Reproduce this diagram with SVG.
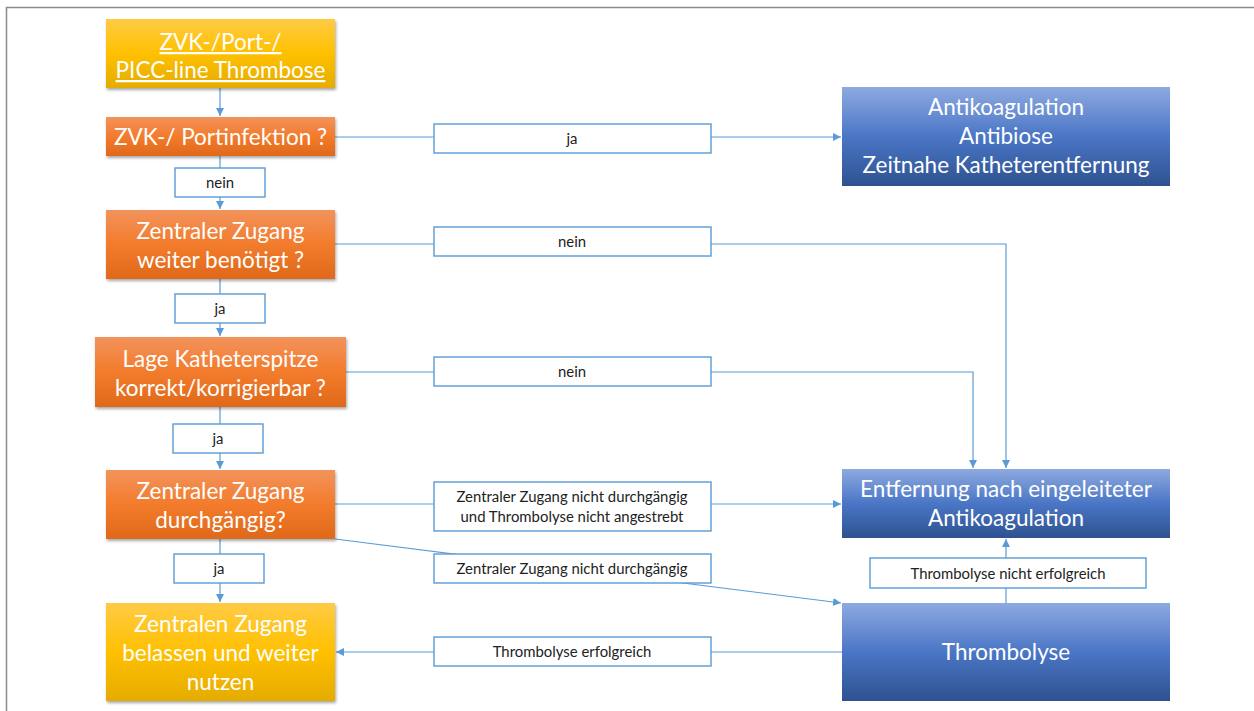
<svg xmlns="http://www.w3.org/2000/svg" width="1254" height="711" viewBox="0 0 1254 711">
<style>
.node text{font-family:Lato,"Open Sans","Liberation Sans",sans-serif;fill:#fff;font-size:22.5px;text-anchor:middle}
.lbl rect{fill:#fff;stroke:#5b9bd5;stroke-width:1.4}
.lbl text{font-family:Lato,"Open Sans","Liberation Sans",sans-serif;fill:#222;font-size:14.9px;text-anchor:middle}
.conn path{fill:none;stroke:#5b9bd5;stroke-width:1.2}
</style>
<defs>
<linearGradient id="gy" x1="0" y1="0" x2="0" y2="1"><stop offset="0" stop-color="#ffcb45"/><stop offset="0.5" stop-color="#ffc000"/><stop offset="1" stop-color="#e5ac00"/></linearGradient>
<linearGradient id="go" x1="0" y1="0" x2="0" y2="1"><stop offset="0" stop-color="#f2935c"/><stop offset="0.5" stop-color="#f37b2c"/><stop offset="1" stop-color="#df691b"/></linearGradient>
<linearGradient id="gb" x1="0" y1="0" x2="0" y2="1"><stop offset="0" stop-color="#8eaadf"/><stop offset="0.5" stop-color="#4a76c6"/><stop offset="1" stop-color="#2e5290"/></linearGradient>
<filter id="sh" x="-5%" y="-10%" width="110%" height="130%"><feDropShadow dx="1" dy="2" stdDeviation="1.5" flood-color="#000" flood-opacity="0.35"/></filter>
<marker id="ah" viewBox="0 0 10 10" refX="10" refY="5" markerWidth="8" markerHeight="8" markerUnits="userSpaceOnUse" orient="auto"><path d="M0,0 L10,5 L0,10 z" fill="#5b9bd5"/></marker>
</defs>
<rect x="0" y="0" width="1254" height="711" fill="#fff"/>
<path d="M6.5,711 V7.5 H1254" fill="none" stroke="#8a8a8a" stroke-width="1.5"/>

<g class="conn">
<path d="M220,88 V116" marker-end="url(#ah)"/>
<path d="M220,156 V209" marker-end="url(#ah)"/>
<path d="M220,279 V336" marker-end="url(#ah)"/>
<path d="M220,407 V469" marker-end="url(#ah)"/>
<path d="M220,539 V602" marker-end="url(#ah)"/>
<path d="M335,137 H841" marker-end="url(#ah)"/>
<path d="M335,244 H1006 V468" marker-end="url(#ah)"/>
<path d="M346,372 H973 V468" marker-end="url(#ah)"/>
<path d="M335,504 H841" marker-end="url(#ah)"/>
<path d="M335,539 L841,603" marker-end="url(#ah)"/>
<path d="M842,652 H336" marker-end="url(#ah)"/>
<path d="M1006,603 V539" marker-end="url(#ah)"/>
</g>

<g class="lbl">
<g id="l-nein1"><rect x="175" y="168" width="90" height="29"/><text x="220" y="188">nein</text></g>
<g id="l-ja1"><rect x="175" y="294" width="90" height="29"/><text x="220" y="314">ja</text></g>
<g id="l-ja2"><rect x="173" y="424" width="90" height="29"/><text x="218" y="444">ja</text></g>
<g id="l-ja3"><rect x="174" y="554" width="90" height="29"/><text x="219" y="574">ja</text></g>
<g id="l-ja4"><rect x="434" y="124" width="277" height="29"/><text x="572" y="144">ja</text></g>
<g id="l-nein2"><rect x="434" y="227" width="277" height="29"/><text x="572" y="247">nein</text></g>
<g id="l-nein3"><rect x="434" y="357" width="277" height="29"/><text x="572" y="377">nein</text></g>
<g id="l-nd2"><rect x="434" y="482" width="277" height="49"/><text x="572" y="502">Zentraler Zugang nicht durchgängig</text><text x="572" y="522">und Thrombolyse nicht angestrebt</text></g>
<g id="l-nd"><rect x="434" y="554" width="277" height="29"/><text x="572" y="574">Zentraler Zugang nicht durchgängig</text></g>
<g id="l-erf"><rect x="434" y="637" width="277" height="29"/><text x="572" y="657">Thrombolyse erfolgreich</text></g>
<g id="l-nerf"><rect x="870" y="558" width="276" height="30"/><text x="1008" y="579">Thrombolyse nicht erfolgreich</text></g>
</g>

<g class="node">
<g id="n-start"><rect x="106" y="19" width="229" height="69" fill="url(#gy)" filter="url(#sh)"/><text x="220.5" y="50" text-decoration="underline">ZVK-/Port-/</text><text x="220.5" y="78" text-decoration="underline">PICC-line Thrombose</text></g>
<g id="n-infekt"><rect x="106" y="117" width="229" height="39" fill="url(#go)" filter="url(#sh)"/><text x="220.5" y="145">ZVK-/ Portinfektion ?</text></g>
<g id="n-benoetigt"><rect x="106" y="210" width="229" height="69" fill="url(#go)" filter="url(#sh)"/><text x="220.5" y="239">Zentraler Zugang</text><text x="220.5" y="268">weiter benötigt ?</text></g>
<g id="n-lage"><rect x="95" y="337" width="251" height="70" fill="url(#go)" filter="url(#sh)"/><text x="220.5" y="367">Lage Katheterspitze</text><text x="220.5" y="396">korrekt/korrigierbar ?</text></g>
<g id="n-durch"><rect x="106" y="470" width="229" height="69" fill="url(#go)" filter="url(#sh)"/><text x="220.5" y="499">Zentraler Zugang</text><text x="220.5" y="528">durchgängig?</text></g>
<g id="n-belassen"><rect x="106" y="603" width="229" height="98" fill="url(#gy)" filter="url(#sh)"/><text x="220.5" y="632">Zentralen Zugang</text><text x="220.5" y="661">belassen und weiter</text><text x="220.5" y="690">nutzen</text></g>
<g id="n-antikoag"><rect x="842" y="87" width="328" height="99" fill="url(#gb)"/><text x="1006" y="115">Antikoagulation</text><text x="1006" y="144">Antibiose</text><text x="1006" y="173">Zeitnahe Katheterentfernung</text></g>
<g id="n-entfernung"><rect x="842" y="469" width="328" height="69" fill="url(#gb)"/><text x="1006" y="497">Entfernung nach eingeleiteter</text><text x="1006" y="526">Antikoagulation</text></g>
<g id="n-thrombolyse"><rect x="842" y="603" width="328" height="98" fill="url(#gb)"/><text x="1006" y="660">Thrombolyse</text></g>
</g>
</svg>
